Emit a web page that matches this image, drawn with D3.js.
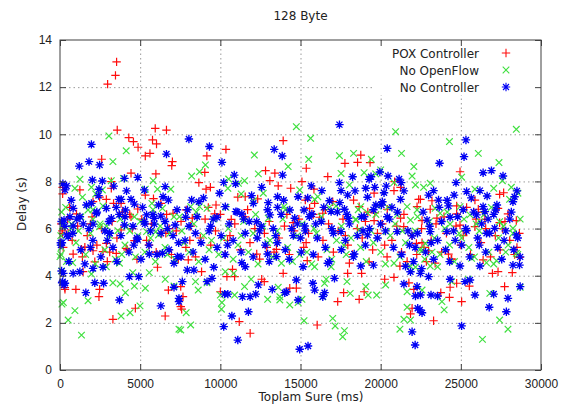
<!DOCTYPE html>
<html>
<head>
<meta charset="utf-8">
<script src="https://cdn.jsdelivr.net/npm/d3@7"></script>
<style>
body { margin: 0; background: #fff; }
svg { font-family: "DejaVu Sans", sans-serif; font-size: 12px; }
.axis path { display: none; }
.axis line { stroke: #404040; }
.axis text { fill: #222; font-size: 12px; }
.grid line { stroke: #9a9a9a; stroke-dasharray: 1.5, 3; }
.grid path { display: none; }
</style>
</head>
<body>
<div id="chart"></div>
<script>
var chartTitle = "128 Byte";
var xLabel = "Toplam Sure (ms)";
var yLabel = "Delay (s)";
var xTicks = [0, 5000, 10000, 15000, 20000, 25000, 30000];
var yTicks = [0, 2, 4, 6, 8, 10, 12, 14];
var seriesNames = ["POX Controller", "No OpenFlow", "No Controller"];

// [time ms, delay s]
var poxPoints = [
[3570,10.18],[5940,10.25],[6640,10.18],[4290,9.86],[4580,9.69],[4870,9.45],[5770,9.76],[6020,9.59],[5610,9.19],[5320,9.08],[7010,8.84],[6970,8.67],[2600,8.94],[4430,8.35],[5980,8.32],[3200,7.99],[165,7.75],[165,7.47],[1240,7.64],[2060,7.14],[2470,7.33],[2890,7.24],[3200,7.71],[3340,7.07],[5320,7.42],[5830,7.27],[6290,7.07],[7050,6.65],[4850,6.83],[1030,6.62],[4430,6.5],[3810,7.07],
[2970,12.13],[3530,13.07],[3460,12.5],
[13920,9.73],[10350,9.36],[9160,9.08],[9030,8.38],[8660,7.95],[9110,7.67],[9380,7.75],[12820,8.46],[13400,8.35],[13090,8.03],[13610,7.81],[14390,7.71],[15090,7.99],[11090,7.33],[11550,7.35],[12330,7.26],[9730,7.0],[7870,6.79],[9650,6.62],[8250,6.44],[10680,6.39],[14540,6.25],
[18760,9.12],[17770,8.77],[18560,8.81],[19340,8.8],[15360,8.56],[16700,8.2],[20870,7.99],[21240,7.75],[15840,7.67],[20830,7.61],[15300,7.21],[17010,7.14],[18310,7.21],[19590,7.5],[22370,7.24],[15880,7.07],[15570,6.86],[18660,6.93],[20410,6.82],[22270,6.93],[16390,6.65],[19630,6.67],[16190,6.48],[21240,6.44],[19590,6.34],[21440,6.08],
[24950,8.41],[22480,7.24],[23200,7.18],[25880,7.21],[27420,7.45],[27670,7.52],[23090,6.82],[24740,6.96],[25360,6.9],[26090,6.82],[27320,6.86],[23510,6.44],[24740,6.62],[27940,6.62],[22580,6.34],[26500,6.39],[24950,6.15],[25880,6.08],[27420,6.25],[28460,6.34],
[510,5.8],[1550,5.21],[820,4.92],[1340,5.12],[2060,5.06],[2890,5.37],[2680,5.02],[3510,4.95],[4130,5.16],[4640,5.49],[6600,5.8],[2170,4.59],[1440,4.17],[310,3.42],[990,3.42],[2470,3.42],[2430,3.11],[4700,2.62],[3300,2.15],[6080,4.36],[6760,3.39],[6560,2.29],[7530,2.69],[7380,4.7],[3810,5.94],
[11860,1.56],[11180,2.05],[10000,3.32],[7590,2.58],[7670,3.11],[7530,3.54],[10760,4.27],[10410,3.96],[10890,3.96],[12740,3.75],[12580,3.85],[13920,4.1],[14330,3.47],[14740,3.47],[12270,4.92],[8830,4.17],[8000,4.67],[13500,5.12],
[16040,1.91],[17320,2.9],[17690,3.28],[18660,3.0],[18970,3.32],[17940,4.1],[18810,4.1],[18050,4.53],[19280,4.59],[20250,3.85],[21200,4.41],[21760,3.7],[22070,3.42],[21960,2.62],[21860,2.38],[22230,5.37],[15420,4.64],[20830,3.93],
[23300,2.09],[25050,2.9],[24290,3.08],[23750,3.28],[24330,3.51],[24740,3.68],[25530,3.56],[27730,3.54],[26970,4.1],[27320,4.17],[28210,4.13],[26390,4.67],[24430,4.7],[24230,4.92],[28660,4.78],[22990,5.06],[23400,4.53],[22580,5.4],
[80,6.2],[150,5.8],[200,5.2],[300,3.5],
[150,5.9],[480,6.4],[760,5.5],[1100,6.1],[1400,4.8],[1700,5.7],[2000,6.5],[2300,5.3],[2600,6.0],[2950,4.6],[3250,6.3],[3550,5.6],[3900,6.7],[4200,5.1],[4500,6.0],[4800,4.7],[5100,6.4],[5400,5.5],[5700,6.2],[6000,5.0],[6350,5.8],[6650,6.6],[6950,4.9],[7250,5.9],[7550,6.3],[7850,5.2],[8150,6.1],[8450,4.8],[8750,5.6],[9050,6.4],[9400,5.3],[9700,5.9],[10000,6.6],[10300,4.9],[10600,5.7],[10900,6.2],[11250,5.1],[11550,6.5],[11850,5.4],[12150,6.0],[12450,4.7],[12750,5.8],[13050,6.3],[13350,5.0],[13650,5.6],[14000,6.1],[14300,4.9],[14600,5.9],[14900,6.4],[15200,5.2],[15500,5.8],[15800,6.6],[16100,4.8],[16400,5.5],[16750,6.2],[17050,5.0],[17350,5.9],[17650,6.4],[17950,5.3],[18250,4.9],[18550,6.0],[18850,5.6],[19200,6.7],[19500,5.1],[19800,5.8],[20100,6.2],[20400,4.8],[20700,5.5],[21000,6.1],[21300,5.0],[21650,4.6],[21950,5.7],[22250,4.9],[22550,6.0],[22850,4.6],[23150,5.5],[23450,6.2],[23800,5.0],[24100,5.8],[24400,4.7],[24700,6.1],[25000,5.3],[25300,5.9],[25600,4.9],[25950,6.4],[26250,5.4],[26550,6.0],[26850,4.8],[27150,5.7],[27450,5.1],[27750,6.3],[28050,5.5],[28350,4.9],[28650,5.8],
[600,6.9],[1900,6.2],[3100,5.0],[4350,6.6],[5550,5.3],[6800,6.0],[8100,5.5],[9250,6.9],[10450,5.5],[11700,6.8],[12900,5.2],[14150,6.6],[15350,5.4],[16550,6.8],[17800,5.7],[19050,6.3],[20250,5.3],[21450,6.6],[22700,5.2],[23950,6.5],[25150,5.7],[26400,6.7],[27600,6.0],[28500,5.2]
];

var noOpenFlowPoints = [
[3050,9.93],[4130,9.3],[3300,8.84],[2640,7.64],[1240,8.09],[930,7.71],[1960,7.75],[3200,8.03],[3960,8.13],[5810,8.03],[5320,7.67],[6080,7.67],[6910,7.67],[1400,7.33],[2230,7.47],[5730,7.07],[6390,6.86],[2680,6.96],[1750,6.79],[4640,6.5],[720,6.19],[2060,6.39],[2470,6.08],[3610,5.91],[4130,6.08],[7110,6.5],[5400,5.87],[5980,5.87],
[14740,10.32],[12120,9.12],[9070,8.7],[8700,8.41],[8210,8.23],[14230,8.63],[12370,8.32],[10520,8.1],[11510,8.03],[11130,7.92],[10470,7.71],[11300,7.47],[12680,7.5],[8700,6.93],[9170,6.86],[8150,6.93],[12060,7.18],[13980,6.93],[12990,6.44],
[20930,10.11],[15630,9.83],[21300,9.19],[17430,9.09],[18310,9.19],[15510,8.94],[19420,8.94],[22070,8.63],[17530,8.34],[18970,8.37],[20000,8.49],[19690,8.32],[21960,8.23],[22170,7.85],[14950,7.64],[18050,7.85],[16080,7.35],[15880,7.24],[20830,7.95],[17220,6.96],[18760,6.93],[19800,6.96],[21650,6.93],[19180,6.67],[21030,6.58],[18450,6.36],[21860,6.36],[18660,5.94],[20370,5.87],
[28460,10.21],[24290,9.69],[26090,9.19],[27380,8.8],[25050,8.18],[27590,8.03],[22680,7.75],[23090,7.92],[25880,7.67],[27050,7.71],[28150,7.75],[28560,7.5],[22270,6.79],[23400,6.86],[24950,6.93],[28040,7.24],[23710,6.65],[25570,6.58],[26190,6.29],[27420,6.29],[28250,6.01],[24330,6.19],
[210,2.86],[930,2.52],[510,2.12],[1340,1.48],[1750,2.94],[3300,3.7],[3750,3.65],[4080,3.28],[4370,2.43],[3810,2.29],[4640,3.56],[5320,3.47],[4990,2.72],[5570,4.13],[6560,3.85],[7110,3.56],[6140,5.73],[0,4.81],[790,4.55],[1960,4.07],[2890,4.38],[3710,4.53],[7420,1.73],[4540,4.13],
[8150,1.91],[7530,1.7],[7870,2.43],[10070,2.58],[10100,2.86],[10000,3.18],[10890,3.18],[11510,3.54],[11920,3.85],[12950,3.0],[13710,2.97],[13710,3.11],[14330,2.76],[14850,2.86],[8620,3.39],[9170,3.7],[10830,4.1],[8450,3.75],[10310,4.17],[13610,3.51],[13810,4.53],
[17630,1.41],[17740,1.67],[17160,1.87],[17010,2.19],[15220,2.09],[15090,3.0],[16390,3.11],[18100,3.25],[19220,3.18],[19750,3.18],[20310,3.61],[17900,3.75],[16600,3.85],[16500,3.68],[19070,3.54],[21650,2.66],[21450,2.15],[21860,2.12],[21200,1.73],[22170,4.36],[20830,4.53],[16910,4.38],[15880,4.38],[21650,3.32],
[26350,1.3],[27940,1.73],[27420,2.12],[23960,2.55],[23820,2.9],[26810,3.25],[28700,3.51],[22580,3.39],[25460,3.85],[24430,3.75],[23550,4.38],[23090,4.41],[25670,4.74],[26600,4.55],[27220,4.64],[28460,4.95],[22580,5.06],[22790,5.37],
[100,6.7],[150,6.1],[50,5.7],[60,4.9],[100,4.2],[120,2.8],
[80,5.2],[400,4.6],[700,6.0],[1000,5.4],[1300,6.5],[1600,4.9],[1900,5.8],[2200,4.5],[2500,6.2],[2800,5.1],[3100,5.7],[3450,4.7],[3750,6.4],[4050,5.3],[4350,5.9],[4700,4.8],[5000,6.3],[5300,5.0],[5650,5.6],[5950,4.6],[6250,6.1],[6550,5.2],[6850,5.8],[7150,4.7],[7450,6.5],[7750,5.4],[8050,5.0],[8350,6.2],[8650,4.6],[8950,5.7],[9300,5.1],[9600,6.4],[9900,4.9],[10200,5.6],[10500,6.0],[10800,4.7],[11100,5.3],[11450,6.3],[11750,5.0],[12050,5.8],[12350,4.5],[12650,6.1],[12950,5.4],[13250,4.8],[13550,5.9],[13900,6.4],[14200,5.2],[14500,4.6],[14800,5.7],[15100,6.2],[15400,5.0],[15700,4.5],[16000,5.8],[16300,6.5],[16650,5.1],[16950,4.7],[17250,5.5],[17550,6.1],[17850,4.9],[18150,5.6],[18450,6.4],[18750,5.2],[19100,4.6],[19400,5.9],[19700,6.6],[20000,5.0],[20300,4.5],[20600,5.7],[20900,6.2],[21200,4.8],[21550,5.4],[21850,4.4],[22150,5.9],[22450,5.1],[22750,4.7],[23050,6.3],[23350,5.6],[23700,4.9],[24000,6.0],[24300,5.3],[24600,4.6],[24900,5.8],[25200,6.4],[25500,5.2],[25850,4.8],[26150,5.9],[26450,6.6],[26750,5.0],[27050,4.5],[27350,5.6],[27650,6.1],[27950,5.3],[28250,5.8],[28550,4.9],
[350,6.9],[1150,5.9],[2050,6.8],[2900,6.1],[3850,4.9],[4850,5.7],[5800,6.8],[6700,4.9],[7600,5.9],[8500,6.7],[9450,5.5],[10350,6.9],[11300,5.7],[12200,6.6],[13100,5.5],[14050,6.8],[14950,4.9],[15850,6.0],[16800,6.9],[17700,5.3],[18600,6.8],[19550,5.4],[20450,6.9],[21350,5.9],[22300,6.5],[23200,5.0],[24150,6.7],[25050,5.6],[25950,6.2],[26900,6.9],[27800,5.0],[28700,6.4]
];

var noControllerPoints = [
[1960,9.57],[1200,8.65],[1810,8.84],[2470,8.7],[6640,9.16],[4020,8.13],[4850,8.17],[2020,8.06],[2640,8.02],[2430,7.67],[410,7.81],[310,7.64],[3670,7.24],[4430,7.24],[3810,7.24],[4640,7.04],[5260,7.64],[6560,7.78],[6430,7.35],[6760,7.21],[820,6.86],[1650,7.0],[1960,7.07],[2890,6.86],[3510,6.9],[620,6.5],[1240,6.5],[2270,6.65],[3200,6.44],[4080,6.79],[5400,6.58],[5880,6.44],[6290,6.53],[250,6.36],[820,6.11],[2060,6.19],[3090,5.8],[4020,6.15],[5260,6.29],[5880,6.19],[7180,6.15],[410,5.73],
[8040,9.8],[9320,9.48],[10100,8.81],[13360,9.36],[13860,9.08],[10870,8.27],[10210,7.96],[13880,8.27],[13570,7.35],[12580,7.75],[8210,7.21],[8660,7.14],[10310,6.93],[10970,6.72],[12990,7.1],[12060,7.07],[13570,6.9],[14850,7.35],[14330,6.79],[7840,6.48],[9790,6.48],[11340,6.62],[13090,6.58],[14640,6.44],[12270,6.29],
[17430,10.41],[20410,9.4],[18250,8.2],[19280,8.09],[20460,8.23],[21280,7.95],[15670,7.81],[16330,7.61],[17430,7.95],[17530,7.61],[19070,7.71],[19630,7.75],[20210,7.52],[16810,7.18],[17940,7.42],[19180,7.33],[20110,7.14],[21240,7.24],[15220,6.79],[15710,6.62],[16910,6.72],[17740,6.82],[17980,6.44],[18970,6.5],[20410,6.5],[20000,6.19],[15260,6.11],[17530,5.87],[19180,5.73],[21030,5.87],[21960,5.69],
[25320,9.76],[25200,9.05],[23670,8.77],[26390,8.37],[26910,8.46],[27630,8.23],[24700,7.95],[22990,7.42],[23300,7.61],[25360,7.57],[26190,7.61],[26640,7.38],[28250,7.14],[28350,7.35],[23610,7.21],[24230,6.96],[24580,7.42],[26390,6.93],[27180,6.79],[24330,6.48],[22890,6.36],[25980,6.58],[26500,6.72],[23090,5.87],[24130,5.87],[25360,5.91],[27110,6.01],[28460,5.73],[26600,5.8],
[210,4.1],[310,3.68],[1610,3.28],[2170,3.7],[2720,3.68],[3710,2.97],[4330,3.96],[4910,3.96],[6290,2.72],[7110,3.51],[7420,3.04],[820,4.1],[1240,4.17],[2060,4.31],[2680,4.36],[7110,4.53],[510,5.66],[3090,5.8],[4840,5.54],[5570,4.92],[6390,4.95],[7320,4.81],[165,3.75],
[10210,1.84],[11090,1.27],[10720,2.29],[11750,2.47],[13240,3.42],[14020,3.28],[14950,0.88],[11380,3.11],[11860,3.11],[12210,3.22],[12370,3.61],[10270,3.22],[10470,3.22],[14850,2.97],[7630,3.75],[9170,3.75],[9480,3.89],[9590,4.36],[7940,4.24],[8350,4.24],[11340,4.55],[11550,4.38],[14120,3.32],[14740,3.82],[7420,2.9],[12950,4.92],[13500,4.81],
[15470,1.02],[16390,3.11],[16500,3.28],[15880,3.39],[15770,3.68],[21960,1.62],[21450,3.65],[22170,3.14],[22310,2.62],[22270,3.54],[15160,4.38],[17120,3.89],[19550,4.45],[21860,4.17],[18760,4.41],[16700,4.53],[18350,4.92],[22150,1.06],
[25050,1.87],[28700,3.54],[27940,3.04],[27840,2.47],[26770,2.66],[27050,3.22],[25880,3.18],[22440,2.55],[22580,2.43],[22480,3.18],[23140,3.18],[23550,3.14],[24330,3.85],[25260,3.75],[25570,3.82],[22480,4.1],[22990,3.96],[26190,4.41],[24950,4.41],[28250,4.45],[28660,4.45],
[100,6.3],[120,5.4],[60,5.3],[100,4.2],[130,3.7],[250,3.6],
[50,5.4],[300,6.1],[550,4.6],[800,5.8],[1050,6.4],[1300,5.1],[1550,4.5],[1800,6.0],[2050,5.5],[2300,6.7],[2550,4.8],[2800,5.9],[3050,6.3],[3300,5.2],[3550,4.6],[3800,5.7],[4050,6.5],[4300,5.0],[4550,6.1],[4800,5.6],[5050,4.7],[5300,6.2],[5550,5.3],[5800,6.6],[6050,4.9],[6300,5.8],[6550,6.3],[6800,5.1],[7050,5.7],[7300,6.8],[7550,4.8],[7800,5.5],[8050,6.1],[8300,5.0],[8550,6.5],[8800,5.4],[9050,4.7],[9300,5.9],[9550,6.4],[9800,5.2],[10050,5.7],[10300,4.9],[10550,6.2],[10800,5.5],[11050,6.7],[11300,5.0],[11550,5.8],[11800,6.3],[12050,4.8],[12300,5.6],[12550,6.1],[12800,5.3],[13050,4.6],[13300,6.0],[13550,5.4],[13800,6.6],[14050,5.1],[14300,4.7],[14550,5.7],[14800,6.2],[15050,5.0],[15300,5.9],[15550,6.5],[15800,4.9],[16050,5.6],[16300,6.3],[16550,5.2],[16800,4.6],[17050,5.8],[17300,6.7],[17550,5.1],[17800,5.5],[18050,6.2],[18300,4.8],[18550,5.7],[18800,6.5],[19050,5.3],[19300,6.0],[19550,6.8],[19800,5.6],[20050,7.0],[20300,5.9],[20550,6.4],[20800,5.2],[21050,6.7],[21300,4.9],[21550,4.4],[21800,5.3],[22050,4.6],[22300,5.8],[22550,4.3],[22800,5.0],[23050,6.1],[23300,4.7],[23550,5.5],[23800,6.3],[24050,5.1],[24300,4.6],[24550,5.9],[24800,6.5],[25050,5.3],[25300,6.0],[25550,4.8],[25800,6.7],[26050,5.6],[26300,6.2],[26550,5.0],[26800,5.8],[27050,6.6],[27300,5.2],[27550,4.7],[27800,5.9],[28050,6.4],[28300,5.1],[28550,5.6],[28700,4.8],
[180,7.9],[700,7.2],[1450,6.2],[1900,5.2],[2400,7.4],[2950,5.5],[3350,7.8],[3700,6.6],[4150,7.6],[4600,5.3],[5150,6.9],[5650,5.9],[6150,7.0],[6700,6.0],[7400,5.4],[7950,6.8],[8450,5.8],[8950,7.3],[9400,6.1],[9950,7.5],[10450,5.3],[10950,7.9],[11450,6.4],[11950,7.4],[12450,5.9],[12950,6.8],[13450,5.7],[13950,7.2],[14450,6.0],[15000,5.6],[15450,7.3],[15950,6.2],[16450,6.9],[16950,6.0],[17450,7.1],[17900,6.6],[18400,7.6],[18900,5.9],[19400,8.2],[19700,7.0],[19950,8.4],[20350,7.8],[20700,6.9],[21150,8.1],[21450,7.6],[21700,5.9],[22150,5.2],[22650,6.7],[23150,5.4],[23650,6.9],[24150,7.2],[24650,5.5],[25150,6.8],[25650,7.3],[26150,5.3],[26700,6.4],[27250,7.0],[27700,5.5],[28150,6.7],[28500,7.6]
];

var W = 586, H = 405;
var plotLeft = 60, plotRight = 541, plotTop = 40, plotBottom = 370;

var svg = d3.select("#chart").append("svg")
    .attr("width", W)
    .attr("height", H);

var x = d3.scaleLinear().domain([0, 30000]).range([plotLeft, plotRight]);
var y = d3.scaleLinear().domain([0, 14]).range([plotBottom, plotTop]);

// grid (dotted, behind points)
svg.append("g")
    .attr("class", "grid")
    .attr("transform", "translate(0," + plotBottom + ")")
    .call(d3.axisBottom(x).tickValues(xTicks.slice(1, -1)).tickSize(-(plotBottom - plotTop)).tickFormat(""));
svg.append("g")
    .attr("class", "grid")
    .attr("transform", "translate(" + plotLeft + ",0)")
    .call(d3.axisLeft(y).tickValues(yTicks.slice(1, -1)).tickSize(-(plotRight - plotLeft)).tickFormat(""));

// point shapes like gnuplot
var plusPath = "M-4.2,0H4.2M0,-4.2V4.2";
var crossPath = "M-3.3,-3.3L3.3,3.3M-3.3,3.3L3.3,-3.3";
var starPath = plusPath + "M-3,-3L3,3M-3,3L3,-3";

var series = [
  {name: seriesNames[0], data: poxPoints, color: "#ff0c0c", shape: plusPath, sw: 1.2},
  {name: seriesNames[1], data: noOpenFlowPoints, color: "#40e040", shape: crossPath, sw: 1.2},
  {name: seriesNames[2], data: noControllerPoints, color: "#0000f4", shape: starPath, sw: 1.35}
];

series.forEach(function(s) {
  svg.append("g").selectAll("path")
    .data(s.data)
    .enter().append("path")
      .attr("d", s.shape)
      .attr("transform", function(d) { return "translate(" + x(d[0]) + "," + y(d[1]) + ")"; })
      .attr("fill", "none")
      .attr("stroke", s.color)
      .attr("stroke-width", s.sw);
});

// legend box (opaque)
var legend = svg.append("g");
legend.append("rect")
    .attr("x", 372).attr("y", 41)
    .attr("width", plotRight - 372 - 1).attr("height", 54)
    .attr("fill", "#fff");
series.forEach(function(s, i) {
  var ly = 53 + i * 17;
  legend.append("text")
      .attr("x", 479).attr("y", ly + 4.5)
      .attr("text-anchor", "end")
      .attr("fill", "#222")
      .text(s.name);
  legend.append("path")
      .attr("d", s.shape)
      .attr("transform", "translate(506," + ly + ")")
      .attr("fill", "none")
      .attr("stroke", s.color)
      .attr("stroke-width", 1.1);
});

// axes with inward ticks, mirrored
svg.append("g")
    .attr("class", "axis")
    .attr("transform", "translate(0," + plotBottom + ")")
    .call(d3.axisBottom(x).tickValues(xTicks).tickSize(-6).tickPadding(9).tickFormat(d3.format("d")));
svg.append("g")
    .attr("class", "axis")
    .attr("transform", "translate(0," + plotTop + ")")
    .call(d3.axisTop(x).tickValues(xTicks).tickSize(-6).tickFormat(""));
svg.append("g")
    .attr("class", "axis")
    .attr("transform", "translate(" + plotLeft + ",0)")
    .call(d3.axisLeft(y).tickValues(yTicks).tickSize(-6).tickPadding(8));
svg.append("g")
    .attr("class", "axis")
    .attr("transform", "translate(" + plotRight + ",0)")
    .call(d3.axisRight(y).tickValues(yTicks).tickSize(-6).tickFormat(""));

// border
svg.append("rect")
    .attr("x", plotLeft).attr("y", plotTop)
    .attr("width", plotRight - plotLeft).attr("height", plotBottom - plotTop)
    .attr("fill", "none")
    .attr("stroke", "#404040")
    .attr("stroke-width", 1);

// titles
svg.append("text")
    .attr("x", (plotLeft + plotRight) / 2).attr("y", 20)
    .attr("text-anchor", "middle")
    .attr("fill", "#222")
    .text(chartTitle);
svg.append("text")
    .attr("x", 311).attr("y", 401)
    .attr("text-anchor", "middle")
    .attr("fill", "#222")
    .text(xLabel);
svg.append("text")
    .attr("transform", "translate(26,204) rotate(-90)")
    .attr("text-anchor", "middle")
    .attr("fill", "#222")
    .text(yLabel);
</script>
</body>
</html>
